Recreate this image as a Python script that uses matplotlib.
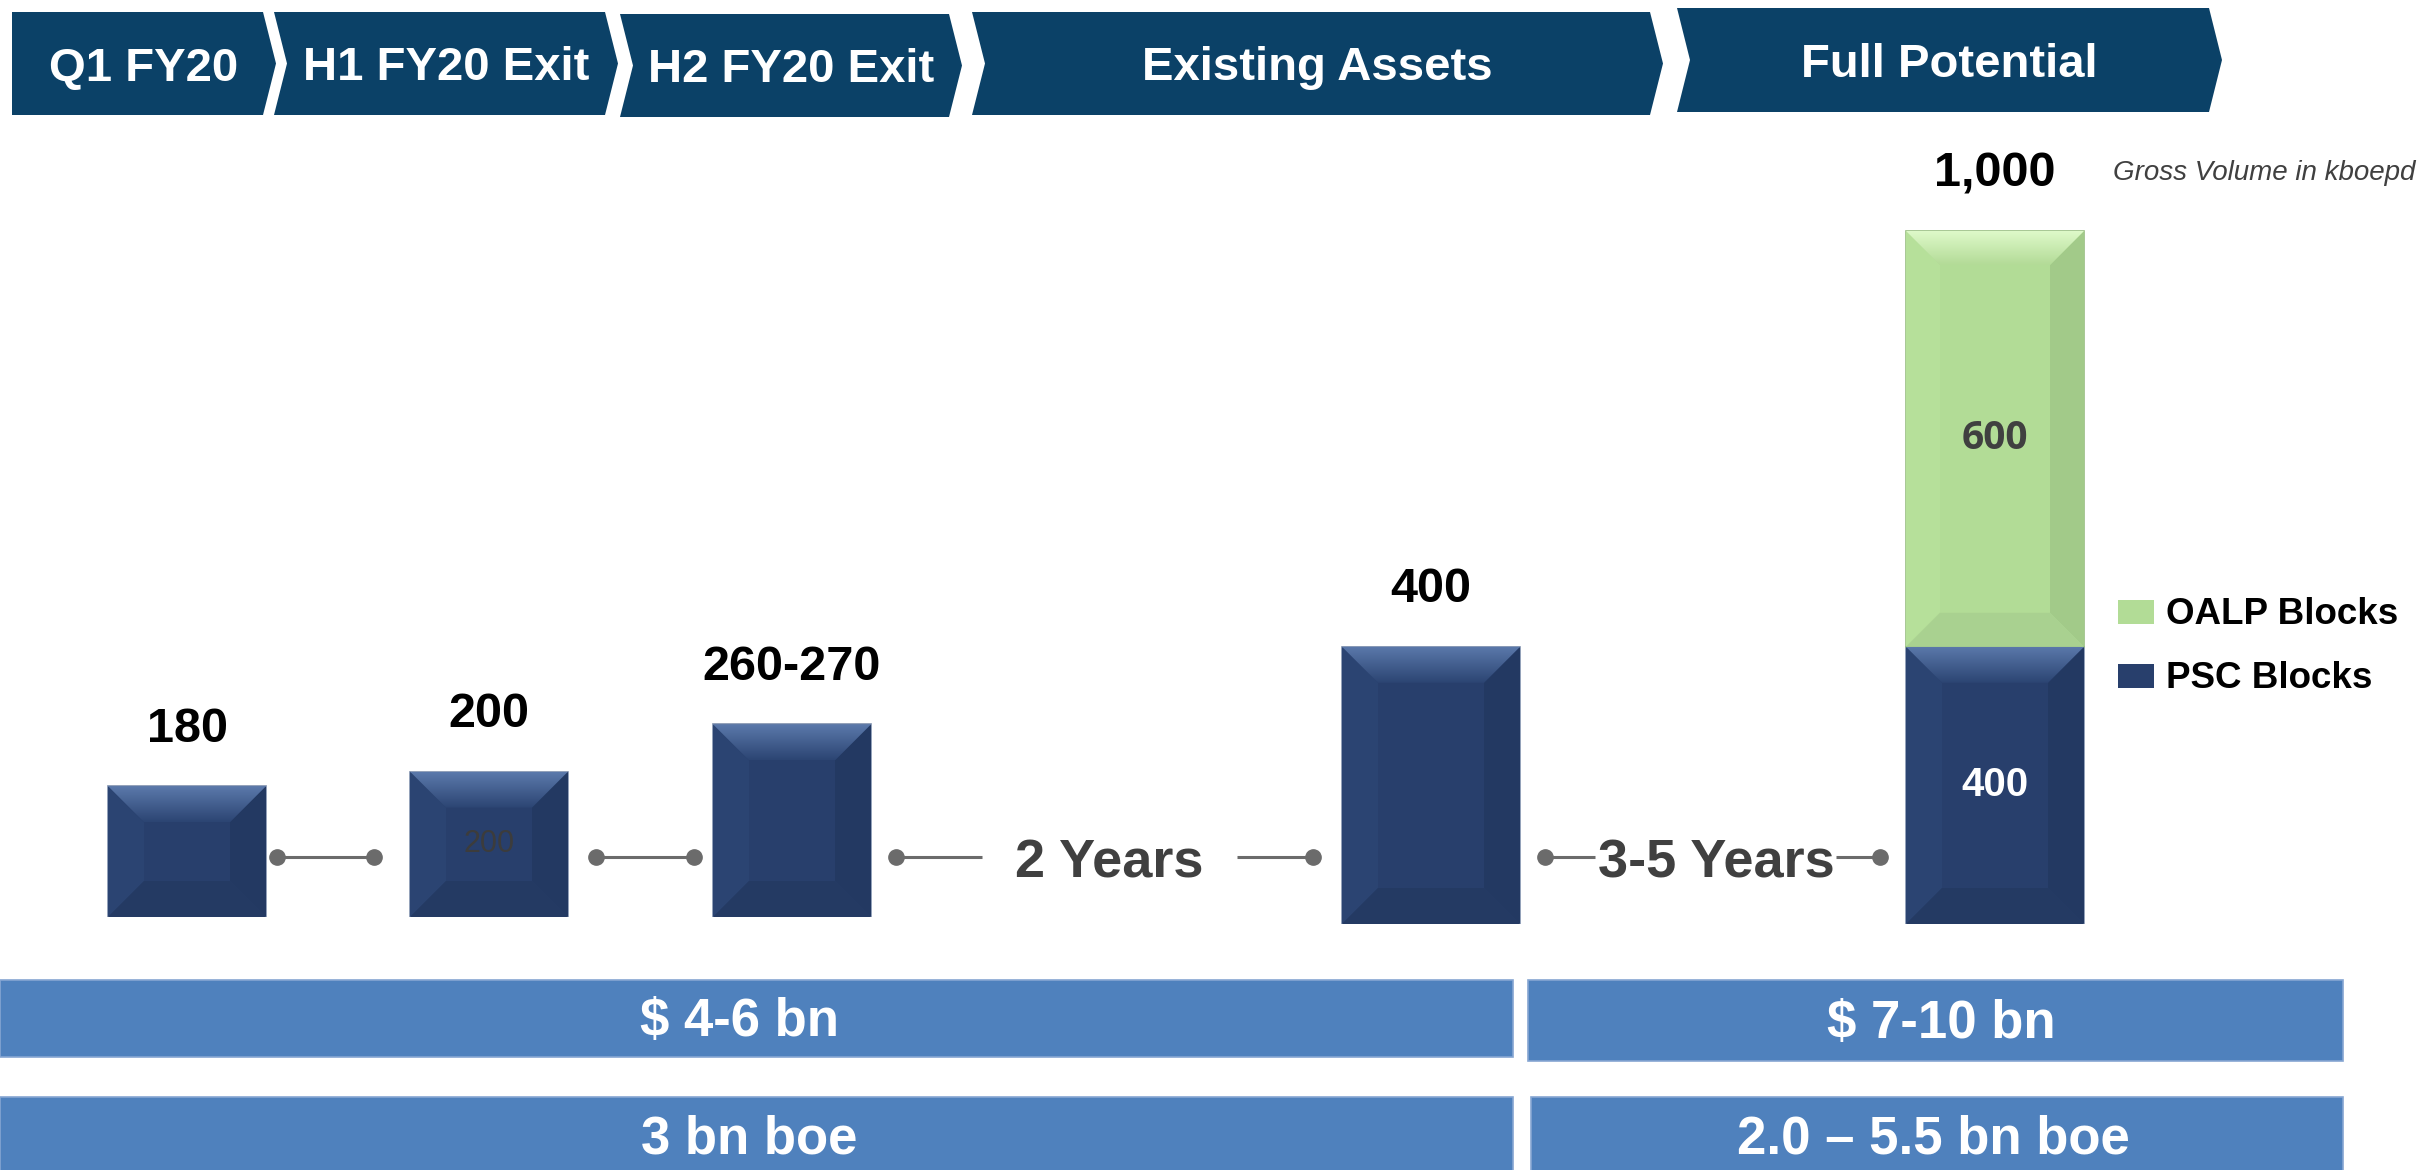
import numpy as np
import matplotlib
matplotlib.use("Agg")
import matplotlib.pyplot as plt
from matplotlib.patches import Polygon, Rectangle
from matplotlib.colors import LinearSegmentedColormap

plt.rcParams["font.family"] = ["Liberation Sans", "DejaVu Sans"]

# data
phases = ["Q1 FY20", "H1 FY20 Exit", "H2 FY20 Exit", "Existing Assets", "Full Potential"]
top_labels = ["180", "200", "260-270", "400", "1,000"]
psc_values = [180, 200, 265, 400, 400]
oalp_values = [0, 0, 0, 0, 600]
psc_inner = ["", "200", "", "", "400"]
oalp_inner = ["", "", "", "", "600"]
durations = ["2 Years", "3-5 Years"]
capex_labels = ["$ 4-6 bn", "$ 7-10 bn"]
resource_labels = ["3 bn boe", "2.0 \u2013 5.5 bn boe"]
legend_labels = ["OALP Blocks", "PSC Blocks"]

# layout (figure pixels, y measured from top)
W, H = 2425, 1170
chevrons = [(12, 263, 12, 115, False), (274, 605, 12, 115, True), (620, 949, 14, 117, True),
            (972, 1650, 12, 115, True), (1677, 2209, 8, 112, True)]
TIP = 13
bar_x = [187, 489, 792, 1431, 1995]
bar_w = [158, 158, 158, 178, 178]
near = [0, 1, 2]
far = [3, 4]
NEAR_BASE, NEAR_PPU = 917, 0.727
FAR_BASE, FAR_PPU = 924, 0.693
CONN_Y = 857

NAVY = dict(face="#283F6C", left="#2B4472", right="#233962", bottom="#243A63",
            hi="#5B79AB", lo="#2C4573", edge="#7F90AD")
GREEN = dict(face="#B2DC96", left="#B6E09A", right="#A2CA89", bottom="#A9D190",
             hi="#DEF9C9", lo="#B3DB97", edge="#98BE82")
HEAD = "#0B4167"
BAND = "#4F81BD"
GREY = "#404040"

fig = plt.figure(figsize=(W / 100, H / 100), dpi=100)
ax = fig.add_axes([0, 0, 1, 1])
ax.set_xlim(0, W)
ax.set_ylim(H, 0)
ax.axis("off")

# header chevrons
for (xl, xr, yt, yb, notch), name in zip(chevrons, phases):
    ym = (yt + yb) / 2
    pts = [(xl, yt), (xr, yt), (xr + TIP, ym), (xr, yb), (xl, yb)]
    if notch:
        pts.append((xl + TIP, ym))
    ax.add_patch(Polygon(pts, closed=True, facecolor=HEAD, edgecolor="none"))
    ax.text((xl + xr + TIP) / 2, ym + 5, name, color="white", fontsize=34,
            fontweight="bold", ha="center", va="center")


def bevel_bar(bax, xc, w, y0, y1, ppu, pal, depth=36):
    bax.bar(xc, y1 - y0, w, bottom=y0, color=pal["face"], edgecolor=pal["edge"],
            linewidth=1.2, zorder=2)
    x0, x1 = xc - w / 2, xc + w / 2
    dx = depth
    dy = depth / ppu
    sides = {
        "left": [(x0, y0), (x0, y1), (x0 + dx, y1 - dy), (x0 + dx, y0 + dy)],
        "right": [(x1, y0), (x1, y1), (x1 - dx, y1 - dy), (x1 - dx, y0 + dy)],
        "bottom": [(x0, y0), (x1, y0), (x1 - dx, y0 + dy), (x0 + dx, y0 + dy)],
    }
    for k, pts in sides.items():
        bax.add_patch(Polygon(pts, closed=True, facecolor=pal[k], edgecolor="none", zorder=3))
    top = Polygon([(x0, y1), (x1, y1), (x1 - dx, y1 - dy), (x0 + dx, y1 - dy)],
                  closed=True, facecolor="none", edgecolor="none", zorder=3)
    bax.add_patch(top)
    cmap = LinearSegmentedColormap.from_list("bev", [pal["hi"], pal["lo"]])
    im = bax.imshow(np.linspace(0, 1, 64)[:, None], extent=(x0, x1, y1 - dy, y1),
                    origin="upper", cmap=cmap, aspect="auto", zorder=3,
                    interpolation="bilinear")
    im.set_clip_path(top)


def bar_axes(base, ppu):
    bax = fig.add_axes([0, (H - base) / H, 1, base / H])
    bax.patch.set_visible(False)
    bax.axis("off")
    return bax


for idx, base, ppu in [(near, NEAR_BASE, NEAR_PPU), (far, FAR_BASE, FAR_PPU)]:
    bax = bar_axes(base, ppu)
    for i in idx:
        psc, oalp = psc_values[i], oalp_values[i]
        bevel_bar(bax, bar_x[i], bar_w[i], 0, psc, ppu, NAVY, depth=36)
        if oalp:
            bevel_bar(bax, bar_x[i], bar_w[i], psc, psc + oalp, ppu, GREEN, depth=34)
        bax.annotate(top_labels[i], (bar_x[i], psc + oalp), xytext=(0, 41),
                     textcoords="offset points", ha="center", va="center",
                     fontsize=35, fontweight="bold", color="black")
        if psc_inner[i]:
            if oalp:
                bax.text(bar_x[i], psc / 2, psc_inner[i], ha="center", va="center",
                         fontsize=29, fontweight="bold", color="white", zorder=5)
            else:
                bax.text(bar_x[i], psc / 2, psc_inner[i], ha="center", va="center",
                         fontsize=22, color="#3C3C3C", zorder=5)
        if oalp_inner[i]:
            bax.text(bar_x[i], psc + oalp / 2, oalp_inner[i], ha="center", va="center",
                     fontsize=28, fontweight="bold", color=GREY, zorder=5,
                     family=["Open Sans", "DejaVu Sans"])
    bax.set_xlim(0, W)
    bax.set_ylim(0, base / ppu)

# connectors between bars
LINE = "#6B6B6B"
segments = [(277, 374, True, True), (596, 694, True, True), (896, 982, True, False),
            (1237, 1313, False, True), (1545, 1595, True, False), (1836, 1880, False, True)]
for xa, xb, da, db in segments:
    ax.plot([xa, xb], [CONN_Y, CONN_Y], color=LINE, lw=2.2, solid_capstyle="butt")
    ends = [x for x, d in ((xa, da), (xb, db)) if d]
    ax.plot(ends, [CONN_Y] * len(ends), "o", color=LINE, markersize=11)
for x, txt in zip([1109, 1716], durations):
    ax.text(x, CONN_Y + 7, txt, ha="center", va="center", fontsize=39,
            fontweight="bold", color=GREY)

# legend
for y, col, lab in [(612, GREEN["face"], legend_labels[0]), (676, NAVY["face"], legend_labels[1])]:
    ax.add_patch(Rectangle((2118, y - 12), 36, 24, facecolor=col, edgecolor="none"))
    ax.text(2166, y + 2, lab, ha="left", va="center", fontsize=26.5,
            fontweight="bold", color="black")

ax.text(2113, 173, "Gross Volume in kboepd", ha="left", va="center", fontsize=20,
        style="italic", color=GREY)

# bottom bands
bands = [(0, 1513, 980, 1057), (1528, 2343, 980, 1061),
         (0, 1513, 1097, 1175), (1531, 2343, 1097, 1175)]
for x0, x1, y0, y1 in bands:
    ax.add_patch(Rectangle((x0, y0), x1 - x0, y1 - y0, facecolor=BAND,
                           edgecolor="#86A6D2", linewidth=1.2))
for x, y, txt in zip([739, 1941, 749, 1933], [1022, 1024, 1140, 1140],
                     capex_labels + resource_labels):
    ax.text(x, y, txt, ha="center", va="center", fontsize=38, fontweight="bold",
            color="white")

fig.savefig("out.png", dpi=100, facecolor="white")
